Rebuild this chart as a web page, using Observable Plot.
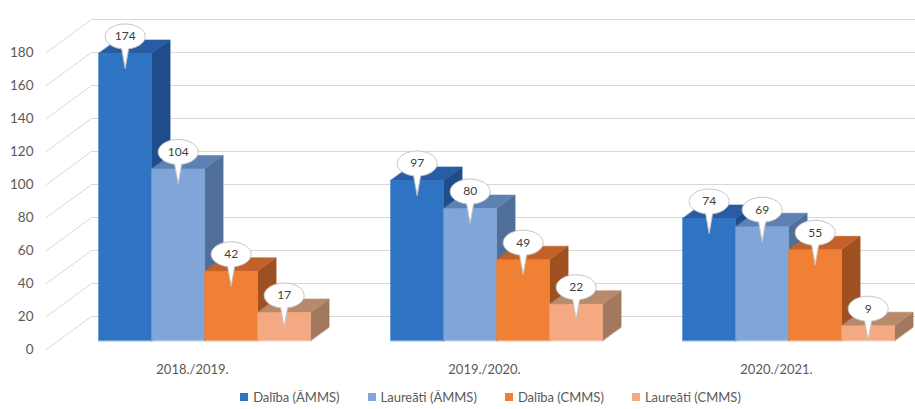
<!DOCTYPE html>
<html>
<head>
<meta charset="utf-8">
<script src="https://cdn.jsdelivr.net/npm/d3@7"></script>
<script src="https://cdn.jsdelivr.net/npm/@observablehq/plot@0.6"></script>
<style>
  body { margin: 0; background: #ffffff; font-family: Lato, "Open Sans", sans-serif; }
  #chart svg { display: block; }
  #legend { display: flex; justify-content: center; align-items: center; height: 25px; padding-left: 66px;
            font-family: Lato, "Open Sans", sans-serif; font-size: 13px; color: #595959; }
  .item { display: flex; align-items: center; margin: 0 14px; }
  .sw { width: 8px; height: 8px; margin-right: 5px; }
</style>
</head>
<body>
<div id="chart"></div>
<div id="legend"></div>
<script>
// ---- data ----
const categories = ["2018./2019.", "2019./2020.", "2020./2021."];
const seriesNames = ["Dalība (ĀMMS)", "Laureāti (ĀMMS)", "Dalība (CMMS)", "Laureāti (CMMS)"];
const dalibaAMMS   = [174, 97, 74];
const laureatiAMMS = [104, 80, 69];
const dalibaCMMS   = [42, 49, 55];
const laureatiCMMS = [17, 22, 9];
const yTicks = [0, 20, 40, 60, 80, 100, 120, 140, 160, 180];

// ---- styles ----
const frontColors = ["#2e74c2", "#7fa5d9", "#ef8034", "#f4a983"];
const topColors   = ["#295ca4", "#5d81b2", "#c2622a", "#b88a6c"];
const sideColors  = ["#1f4c8a", "#4f6f99", "#9e5020", "#a2785e"];
const legendColors = frontColors;

// 3D geometry (x in category units, y in value units)
const WALL_DX = 45 / 292, WALL_DY = 20;
const T_FRONT = 0.27, T_BACK = 0.68;
const BAR_W = 0.1815, GROUP_PAD = 0.137;
const f = {dx: WALL_DX * T_FRONT, dy: WALL_DY * T_FRONT};
const b = {dx: WALL_DX * T_BACK, dy: WALL_DY * T_BACK};

const seriesValues = [dalibaAMMS, laureatiAMMS, dalibaCMMS, laureatiCMMS];

const sides = [], tops = [], fronts = [], callouts = [];
categories.forEach((cat, i) => {
  seriesValues.forEach((vals, j) => {
    const v = vals[i];
    const xl = i + GROUP_PAD + j * BAR_W, xr = xl + BAR_W;
    const id = `${i}-${j}`;
    [[xr + f.dx, f.dy], [xr + f.dx, v + f.dy], [xr + b.dx, v + b.dy], [xr + b.dx, b.dy]]
      .forEach(([x, y]) => sides.push({id, x, y, c: sideColors[j]}));
    [[xl + f.dx, v + f.dy], [xr + f.dx, v + f.dy], [xr + b.dx, v + b.dy], [xl + b.dx, v + b.dy]]
      .forEach(([x, y]) => tops.push({id, x, y, c: topColors[j]}));
    [[xl + f.dx, f.dy], [xl + f.dx, v + f.dy], [xr + f.dx, v + f.dy], [xr + f.dx, f.dy]]
      .forEach(([x, y]) => fronts.push({id, x, y, c: frontColors[j]}));
    callouts.push({x: (xl + xr) / 2 + f.dx, y: v + f.dy, label: String(v)});
  });
});

// grid: left side-wall diagonals + back wall horizontals
const grid = [];
yTicks.forEach(v => {
  grid.push({v, x: 0, y: v});
  grid.push({v, x: WALL_DX, y: v + WALL_DY});
  grid.push({v, x: 3 + WALL_DX, y: v + WALL_DY});
});

const catLabels = categories.map((c, i) => ({x: i + 0.5, c}));

// balloon callout symbol
const balloon = {
  draw(ctx) {
    const rx = 20, ry = 12.5, tip = 32, half = 3.5;
    const tr = Math.acos(half / rx), tl = Math.PI - tr;
    ctx.moveTo(0, tip);
    ctx.lineTo(rx * Math.cos(tr), ry * Math.sin(tr));
    const N = 60, end = tl - 2 * Math.PI;
    for (let k = 1; k <= N; ++k) {
      const t = tr + (end - tr) * k / N;
      ctx.lineTo(rx * Math.cos(t), ry * Math.sin(t));
    }
    ctx.closePath();
  }
};

const face = (data) => Plot.line(data, {
  x: "x", y: "y", z: "id", fill: "c", stroke: "c", strokeWidth: 0.6, curve: "linear-closed"
});

const chart = Plot.plot({
  width: 915,
  height: 384,
  marginLeft: 46,
  marginTop: 19,
  marginBottom: 35,
  marginRight: 0,
  style: {fontFamily: "Lato, 'Open Sans', sans-serif", background: "#ffffff"},
  x: {domain: [0, 3], range: [46, 922], axis: null},
  y: {domain: [0, 200], range: [349, 19], axis: null},
  color: {type: "identity"},
  marks: [
    Plot.line(grid, {x: "x", y: "y", z: "v", stroke: "#dcd7d3", strokeWidth: 1}),
    Plot.axisY({ticks: yTicks, tickSize: 0, tickPadding: 13, fontSize: 13.5, fill: "#595959", label: null}),
    Plot.text(catLabels, {x: "x", y: () => 0, text: "c", dy: 20, fontSize: 13, fill: "#595959"}),
    face(sides),
    face(tops),
    face(fronts),
    Plot.dot(callouts, {x: "x", y: "y", symbol: balloon, r: 10, fill: "#ffffff", stroke: "#c4c4c4", strokeWidth: 1, dy: -17}),
    Plot.text(callouts, {x: "x", y: "y", text: "label", dy: -17, fontSize: 12, fill: "#404040"})
  ]
});
document.getElementById("chart").appendChild(chart);

const legend = document.getElementById("legend");
seriesNames.forEach((name, j) => {
  const item = document.createElement("div");
  item.className = "item";
  const sw = document.createElement("span");
  sw.className = "sw";
  sw.style.background = legendColors[j];
  const t = document.createElement("span");
  t.textContent = name;
  item.appendChild(sw); item.appendChild(t);
  legend.appendChild(item);
});
</script>
</body>
</html>
